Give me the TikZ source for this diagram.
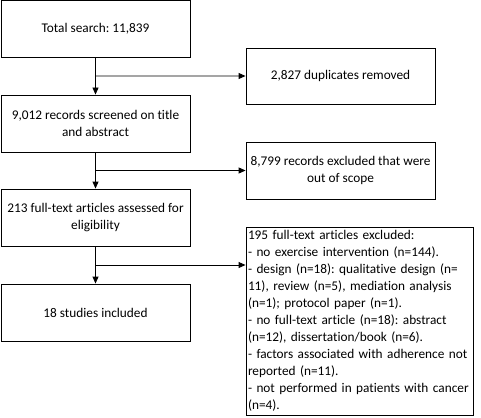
\documentclass[tikz,border=0pt]{standalone}
\usepackage{fontspec}
\setmainfont[Ligatures=NoCommon]{Carlito}
\frenchspacing
\usetikzlibrary{arrows.meta,calc}
\begin{document}
\begin{tikzpicture}[x=1pt,y=-1pt,
  every node/.style={font=\fontsize{13.3}{17}\selectfont},
  flowbox/.style={draw,line width=0.9pt,minimum width=189pt,minimum height=57pt,align=center,inner sep=2pt},
  arr/.style={line width=0.9pt,-{Triangle[length=7pt,width=6pt]}},
  ln/.style={line width=0.9pt}]
\useasboundingbox (0,0) rectangle (481,417);
\node[flowbox] (b1) at (95.5,28.5) {Total search: 11,839};
\node[flowbox,minimum height=56pt] (ba) at (340.5,76) {2,827 duplicates removed};
\node[flowbox] (b2) at (95.5,123.5) {9,012 records screened on title\\and abstract};
\node[flowbox] (bb) at (340.5,170.5) {8,799 records excluded that were\\out of scope};
\node[flowbox] (b3) at (95.5,217.5) {213 full-text articles assessed for\\eligibility};
\node[flowbox] (b4) at (95.5,312.5) {18 studies included};
\node[draw,line width=0.9pt,minimum width=227pt,minimum height=188pt,text width=223pt,align=left,inner xsep=2pt,inner ysep=1pt] (bc) at (359.5,321) {195 full-text articles excluded:\\
- no exercise intervention (n=144).\\
- design (n=18): qualitative design (n=\\
11), review (n=5), mediation analysis\\
(n=1); protocol paper (n=1).\\
- no full-text article (n=18): abstract\\
(n=12), dissertation/book (n=6).\\
- factors associated with adherence not\\
reported (n=11).\\
- not performed in patients with cancer\\
(n=4).};
\coordinate (m1) at ($(b1.south)!0.5!(b2.north)$);
\coordinate (m2) at ($(b2.south)!0.5!(b3.north)$);
\coordinate (m3) at ($(b3.south)!0.5!(b4.north)$);
\draw[arr] (b1.south) -- (b2.north);
\draw[arr] (m1) -- (ba.west);
\draw[arr] (b2.south) -- (b3.north);
\draw[arr] (m2) -- (bb.west);
\draw[arr] (b3.south) -- (b4.north);
\draw[arr] (m3) -- (bc.west |- m3);
\end{tikzpicture}
\end{document}
